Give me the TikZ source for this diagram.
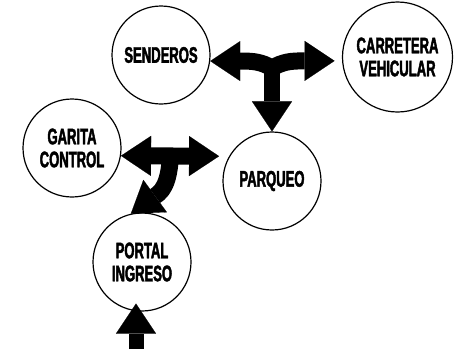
\documentclass[tikz,border=0pt]{standalone}
\usepackage{fontspec}
\usepackage{tikz}
\usetikzlibrary{arrows.meta,calc}
\newfontfamily\cadfont{Liberation Sans}[FakeStretch=0.58,BoldFeatures={FakeBold=2}]

\begin{document}
\begin{tikzpicture}[
  x=1pt,y=1pt,
  every node/.style={font=\cadfont\bfseries\fontsize{22.5}{23}\selectfont},
  place/.style={circle,draw,line width=1.2pt,minimum size=98pt,inner sep=0pt,align=center},
  bigplace/.style={place,minimum size=110pt},
  blockarrow/.style={line width=17pt,line join=round,-{Triangle[length=30pt,width=40pt,line width=0.1pt]}},
  twoway/.style={blockarrow,{Triangle[length=30pt,width=40pt,line width=0.1pt]}-{Triangle[length=30pt,width=40pt,line width=0.1pt]}}
]
\useasboundingbox (0,0) rectangle (457,-349);

\node[place] (senderos) at (161,-55) {SENDEROS};
\node[bigplace] (carretera) at (397.5,-57) {CARRETERA\\VEHICULAR};
\node[place] (garita) at (72,-148) {GARITA\\CONTROL};
\node[place] (parqueo) at (272,-181) {PARQUEO};
\node[place] (portal) at (142,-262) {PORTAL\\INGRESO};

\coordinate (j1) at (272,-68);
\coordinate (j2) at (171,-157);
\coordinate (entry) at (136,-349);

% senderos <-> carretera, down to parqueo
\draw[twoway] (senderos.-7) -- ++(31,0) to[out=0,in=150] (j1)
  to[out=30,in=180] ($(carretera.184)+(-38.5,0)$) -- ([xshift=-7.5pt]carretera.184);
\draw[blockarrow,line width=16pt] ([yshift=8pt]j1) -- (parqueo.north);

% garita <-> parqueo, down to portal
\draw[twoway] (garita.-9) -- ([xshift=-10pt]parqueo.150);
\draw[blockarrow] ([yshift=6pt]j2) to[out=-95,in=40,looseness=0.8] ($(portal.103)+(36:34)$) -- (portal.103);

% entrada
\draw[blockarrow,line width=15pt] (entry) -- ([xshift=-6pt,yshift=8pt]portal.south);
\end{tikzpicture}
\end{document}
